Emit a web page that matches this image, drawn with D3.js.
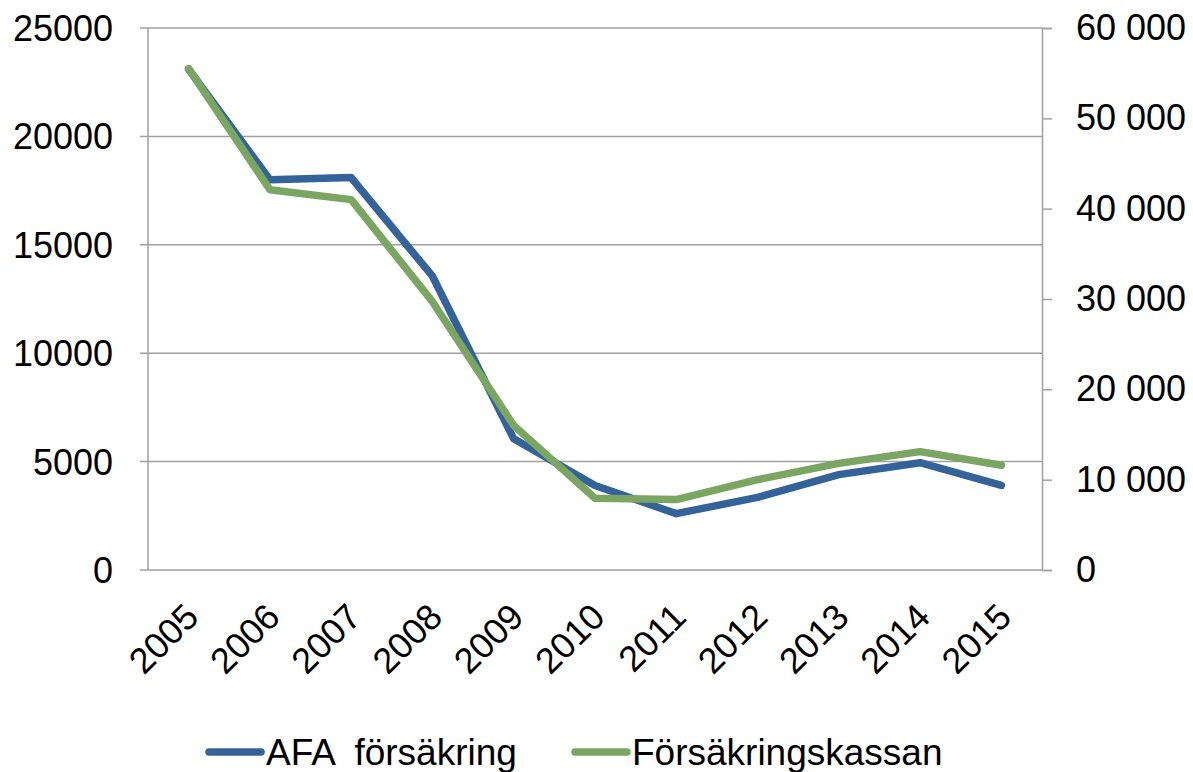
<!DOCTYPE html>
<html>
<head>
<meta charset="utf-8">
<script src="https://cdn.jsdelivr.net/npm/d3@7"></script>
<style>
  body { margin: 0; background: #fff; }
  text { font-family: "Liberation Sans", Arial, sans-serif; fill: #000; }
</style>
</head>
<body>
<div id="chart"></div>
<script>
const years = ["2005", "2006", "2007", "2008", "2009", "2010", "2011", "2012", "2013", "2014", "2015"];
const afaValues = [23100, 18000, 18100, 13550, 6050, 3900, 2600, 3350, 4400, 4950, 3900];
const fkValues = [55500, 42100, 41000, 29700, 16000, 7950, 7800, 10000, 11800, 13100, 11600];
const leftTicks = [0, 5000, 10000, 15000, 20000, 25000];
const rightTicks = [0, 10000, 20000, 30000, 40000, 50000, 60000];
const seriesNames = ["AFA  försäkring", "Försäkringskassan"];

const width = 1193;
const height = 772;
const margin = { top: 28, right: 151, bottom: 202, left: 148 };
const innerW = width - margin.left - margin.right;
const innerH = height - margin.top - margin.bottom;
const fontSize = "36px";

const blue = "#34639a";
const green = "#7ba662";
const gridColor = "#a0a0a0";

const svg = d3.select("#chart")
  .append("svg")
  .attr("width", width)
  .attr("height", height);

const g = svg.append("g").attr("transform", `translate(${margin.left},${margin.top})`);

const x = d3.scaleBand().domain(years).range([0, innerW]);
const yLeft = d3.scaleLinear().domain([0, 25000]).range([innerH, 0]);
const yRight = d3.scaleLinear().domain([0, 60000]).range([innerH, 0]);

// Gridlines (left axis)
g.append("g")
  .selectAll("line")
  .data(leftTicks)
  .join("line")
  .attr("x1", -8)
  .attr("x2", innerW)
  .attr("y1", d => yLeft(d))
  .attr("y2", d => yLeft(d))
  .attr("stroke", gridColor)
  .attr("stroke-width", 1.5);

// Left axis line
g.append("line")
  .attr("x1", 0).attr("x2", 0)
  .attr("y1", 0).attr("y2", innerH)
  .attr("stroke", gridColor)
  .attr("stroke-width", 1.5);

// Left tick labels
g.append("g")
  .selectAll("text")
  .data(leftTicks)
  .join("text")
  .attr("x", -35)
  .attr("y", d => yLeft(d))
  .attr("dy", "0.36em")
  .attr("text-anchor", "end")
  .style("font-size", fontSize)
  .text(d => d);

// Right axis
const fmtSpace = d => d === 0 ? "0" : d3.format(",")(d).replace(/,/g, " ");
const rightAxis = g.append("g")
  .attr("transform", `translate(${innerW},0)`)
  .call(d3.axisRight(yRight).tickValues(rightTicks).tickSize(10).tickPadding(24).tickFormat(fmtSpace));
rightAxis.select(".domain").attr("stroke", gridColor).attr("stroke-width", 1.5);
rightAxis.selectAll(".tick line").attr("stroke", gridColor).attr("stroke-width", 1.5);
rightAxis.selectAll(".tick text")
  .style("font-size", fontSize)
  .style("font-family", "'Liberation Sans', Arial, sans-serif")
  .attr("fill", "#000");

// X tick labels
g.append("g")
  .selectAll("text")
  .data(years)
  .join("text")
  .attr("transform", d => `translate(${x(d) + x.bandwidth() / 2 + 12},${innerH + 49}) rotate(-45)`)
  .attr("text-anchor", "end")
  .style("font-size", fontSize)
  .text(d => d);

// Lines
const cx = d => x(d) + x.bandwidth() / 2;
const lineAfa = d3.line().x((d, i) => cx(years[i])).y(d => yLeft(d));
const lineFk = d3.line().x((d, i) => cx(years[i])).y(d => yRight(d));

g.append("path")
  .datum(afaValues)
  .attr("d", lineAfa)
  .attr("fill", "none")
  .attr("stroke", blue)
  .attr("stroke-width", 7.5)
  .attr("stroke-linejoin", "round")
  .attr("stroke-linecap", "round");

g.append("path")
  .datum(fkValues)
  .attr("d", lineFk)
  .attr("fill", "none")
  .attr("stroke", green)
  .attr("stroke-width", 7.5)
  .attr("stroke-linejoin", "round")
  .attr("stroke-linecap", "round");

// Legend
const legend = svg.append("g").attr("transform", `translate(0, 752)`);
const legendItems = [
  { name: seriesNames[0], color: blue, x: 209 },
  { name: seriesNames[1], color: green, x: 575 }
];
legendItems.forEach(item => {
  const li = legend.append("g").attr("transform", `translate(${item.x},0)`);
  li.append("line")
    .attr("x1", 0).attr("x2", 52)
    .attr("y1", 0).attr("y2", 0)
    .attr("stroke", item.color)
    .attr("stroke-width", 7.5)
    .attr("stroke-linecap", "round");
  li.append("text")
    .attr("x", 57)
    .attr("y", 0)
    .attr("dy", "0.36em")
    .style("font-size", "37px")
    .style("white-space", "pre")
    .text(item.name);
});
</script>
</body>
</html>
